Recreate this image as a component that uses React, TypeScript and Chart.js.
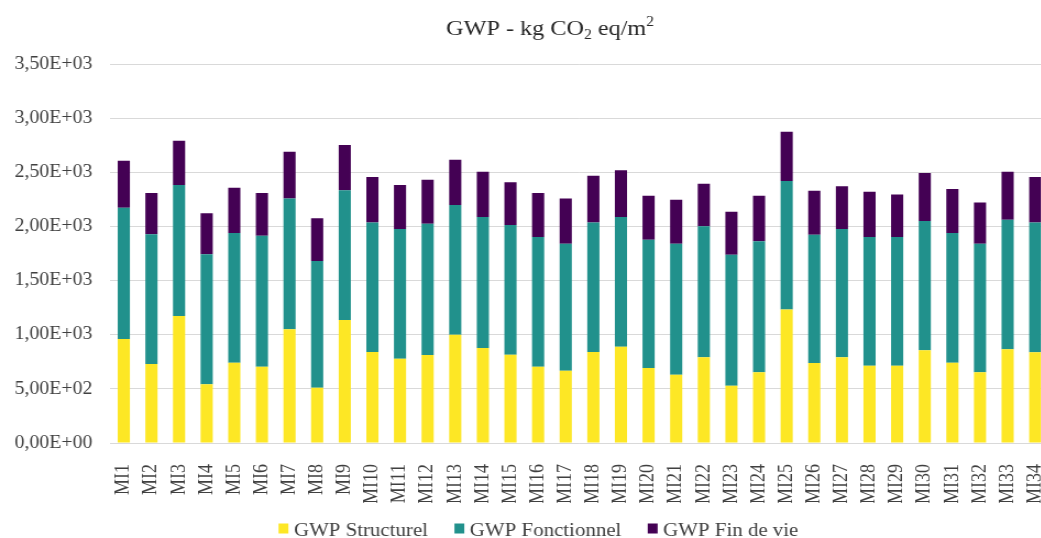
import React, { useEffect, useRef } from "react";
import { Chart, registerables } from "chart.js";

Chart.register(...registerables);

const categories = [
  "MI1", "MI2", "MI3", "MI4", "MI5", "MI6", "MI7", "MI8", "MI9", "MI10",
  "MI11", "MI12", "MI13", "MI14", "MI15", "MI16", "MI17", "MI18", "MI19", "MI20",
  "MI21", "MI22", "MI23", "MI24", "MI25", "MI26", "MI27", "MI28", "MI29", "MI30",
  "MI31", "MI32", "MI33", "MI34",
];

const structurel = [
  960, 729, 1173, 542, 742, 705, 1050, 511, 1136, 840,
  779, 812, 1000, 877, 815, 705, 668, 840, 889, 692,
  631, 791, 529, 653, 1234, 739, 791, 714, 714, 856,
  742, 653, 865, 837,
];

const fonctionnel = [
  1213, 1198, 1209, 1200, 1197, 1209, 1209, 1169, 1197, 1197,
  1197, 1213, 1198, 1210, 1198, 1197, 1172, 1197, 1198, 1185,
  1209, 1210, 1210, 1209, 1185, 1184, 1185, 1188, 1188, 1194,
  1197, 1187, 1197, 1200,
];

const finDeVie = [
  434, 381, 409, 379, 418, 394, 431, 395, 419, 419,
  406, 406, 418, 418, 394, 406, 419, 431, 431, 407,
  407, 393, 397, 422, 455, 407, 394, 419, 394, 443,
  406, 382, 443, 419,
];

const yTicks = [0, 500, 1000, 1500, 2000, 2500, 3000, 3500];
const seriesNames = ["GWP Structurel", "GWP Fonctionnel", "GWP Fin de vie"];
const seriesColors = ["#FDE725", "#21918C", "#440154"];

const SX = 1.1;
const W = 976;
const H = 538;
const FONT = "'Liberation Serif', 'Times New Roman', serif";

function fmtSci(v: number): string {
  if (v === 0) return "0,00E+00";
  const exp = Math.floor(Math.log10(Math.abs(v)));
  const mant = v / Math.pow(10, exp);
  const sign = exp < 0 ? "-" : "+";
  const e = String(Math.abs(exp)).padStart(2, "0");
  return mant.toFixed(2).replace(".", ",") + "E" + sign + e;
}

const titlePlugin = {
  id: "customTitle",
  afterDraw(chart: any) {
    const ctx = chart.ctx;
    const segs = [
      { t: "GWP - kg CO", size: 22, dy: 0 },
      { t: "2", size: 14, dy: 4 },
      { t: " eq/m", size: 22, dy: 0 },
      { t: "2", size: 14, dy: -9 },
    ];
    ctx.save();
    let total = 0;
    for (const s of segs) {
      ctx.font = `${s.size}px ${FONT}`;
      total += ctx.measureText(s.t).width;
    }
    let x = 500 - total / 2;
    const base = 35;
    ctx.fillStyle = "#262626";
    ctx.textBaseline = "alphabetic";
    ctx.textAlign = "left";
    for (const s of segs) {
      ctx.font = `${s.size}px ${FONT}`;
      ctx.fillText(s.t, x, base + s.dy);
      x += ctx.measureText(s.t).width;
    }
    ctx.restore();
  },
};

const legendPlugin = {
  id: "customLegend",
  afterDraw(chart: any) {
    const ctx = chart.ctx;
    const size = 19;
    const boxW = 9;
    const boxH = 10;
    const gapBox = 5;
    const gapItem = 24;
    const cx = 489.5;
    const base = 535.5;
    ctx.save();
    ctx.font = `${size}px ${FONT}`;
    const items = chart.data.datasets.map((d: any) => ({
      text: d.label,
      color: d.backgroundColor,
      w: ctx.measureText(d.label).width,
    }));
    let total = 0;
    items.forEach((it: any, i: number) => {
      total += boxW + gapBox + it.w + (i < items.length - 1 ? gapItem : 0);
    });
    let x = cx - total / 2;
    ctx.textBaseline = "alphabetic";
    ctx.textAlign = "left";
    for (const it of items) {
      ctx.fillStyle = it.color;
      ctx.fillRect(x, base - 12, boxW, boxH);
      x += boxW + gapBox;
      ctx.fillStyle = "#404040";
      ctx.fillText(it.text, x, base);
      x += it.w + gapItem;
    }
    ctx.restore();
  },
};

export default function App() {
  const ref = useRef<HTMLCanvasElement | null>(null);

  useEffect(() => {
    if (!ref.current) return;
    const datasets = [structurel, fonctionnel, finDeVie].map((vals, i) => ({
      label: seriesNames[i],
      data: vals,
      backgroundColor: seriesColors[i],
      borderWidth: 0,
      stack: "gwp",
      barPercentage: 0.44,
      categoryPercentage: 1,
    }));
    const chart = new Chart(ref.current, {
      type: "bar",
      data: { labels: categories, datasets },
      options: {
        animation: false,
        responsive: false,
        devicePixelRatio: 1,
        layout: { padding: { left: 0, right: 19, top: 64, bottom: 35 } },
        plugins: {
          legend: { display: false },
          title: { display: false },
          tooltip: { enabled: false },
        },
        scales: {
          x: {
            stacked: true,
            grid: { display: false },
            border: { display: false },
            ticks: {
              autoSkip: false,
              maxRotation: 90,
              minRotation: 90,
              padding: 13,
              color: "#404040",
              font: { family: FONT, size: 18 },
            },
            afterFit: (s: any) => {
              s.height = 60;
            },
          },
          y: {
            stacked: true,
            min: yTicks[0],
            max: yTicks[yTicks.length - 1],
            afterBuildTicks: (s: any) => {
              s.ticks = yTicks.map((v) => ({ value: v }));
            },
            ticks: {
              padding: 16,
              color: "#404040",
              font: { family: FONT, size: 18 },
              callback: (v: any) => fmtSci(Number(v)),
            },
            grid: { color: "#d9d9d9", lineWidth: 1, drawTicks: false },
            border: { display: false },
            afterFit: (s: any) => {
              s.width = 100;
            },
          },
        },
      },
      plugins: [titlePlugin, legendPlugin],
    });
    return () => chart.destroy();
  }, []);

  return (
    <div
      style={{
        position: "fixed",
        left: 0,
        top: 0,
        width: 1041,
        height: 538,
        overflow: "hidden",
        background: "#ffffff",
      }}
    >
      <canvas
        ref={ref}
        width={W}
        height={H}
        style={{
          display: "block",
          width: W + "px",
          height: H + "px",
          transform: `scaleX(${SX})`,
          transformOrigin: "0 0",
        }}
      />
    </div>
  );
}
